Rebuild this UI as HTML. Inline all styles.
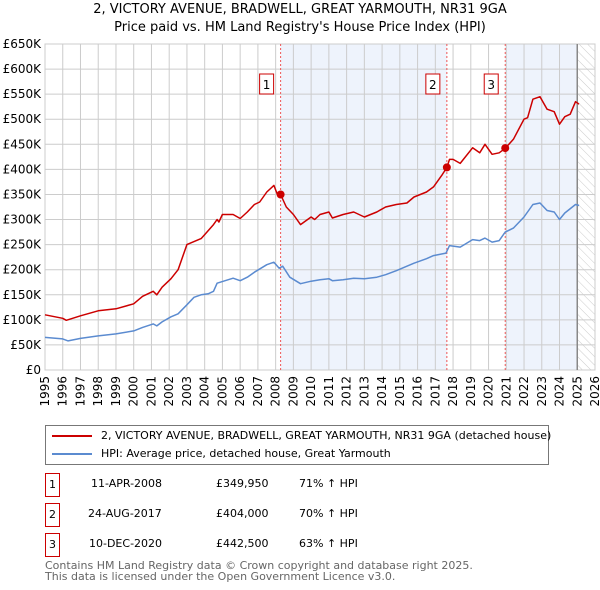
<!DOCTYPE html>
<html><head><meta charset="utf-8"><style>
body{margin:0;background:#fff;font-family:"DejaVu Sans","Liberation Sans",sans-serif;}
.t{position:absolute;font-size:11px;color:#000;white-space:nowrap}
.box{position:absolute;border:1px solid #c00;width:13px;height:22px;font-size:11px;text-align:center;line-height:22px;background:#fff}
</style></head><body>
<div style="position:relative;width:600px;height:590px;overflow:hidden">
<div class="t" style="left:0;width:600px;text-align:center;top:2px;font-size:13px">2, VICTORY AVENUE, BRADWELL, GREAT YARMOUTH, NR31 9GA</div>
<div class="t" style="left:0;width:600px;text-align:center;top:20px;font-size:13px">Price paid vs. HM Land Registry's House Price Index (HPI)</div>
<svg id="svg" width="600" height="420" style="position:absolute;left:0;top:0"></svg>
<div style="position:absolute;left:45px;top:425px;width:502px;height:38px;border:1px solid #777">
 <div style="position:absolute;left:6px;top:9px;width:40px;height:2px;background:#c00"></div>
 <div class="t" style="left:55px;top:3px">2, VICTORY AVENUE, BRADWELL, GREAT YARMOUTH, NR31 9GA (detached house)</div>
 <div style="position:absolute;left:6px;top:27px;width:40px;height:2px;background:#5b8bd0"></div>
 <div class="t" style="left:55px;top:21px">HPI: Average price, detached house, Great Yarmouth</div>
</div>
<div>
<div class="box" style="left:45px;top:473px">1</div>
<div class="t" style="left:91px;top:477px">11-APR-2008</div>
<div class="t" style="left:216px;top:477px">£349,950</div>
<div class="t" style="left:299px;top:477px">71% ↑ HPI</div>
<div class="box" style="left:45px;top:503px">2</div>
<div class="t" style="left:88px;top:507px">24-AUG-2017</div>
<div class="t" style="left:216px;top:507px">£404,000</div>
<div class="t" style="left:299px;top:507px">70% ↑ HPI</div>
<div class="box" style="left:45px;top:533px">3</div>
<div class="t" style="left:89px;top:537px">10-DEC-2020</div>
<div class="t" style="left:216px;top:537px">£442,500</div>
<div class="t" style="left:299px;top:537px">63% ↑ HPI</div>
</div>
<div class="t" style="left:45px;top:560px;color:#666;line-height:11px">Contains HM Land Registry data © Crown copyright and database right 2025.<br>This data is licensed under the Open Government Licence v3.0.</div>
</div>
<script>
const redYears=[1995,1996,1996.2,1997,1998,1998.5,1999,2000,2000.5,2001.1,2001.3,2001.6,2002.1,2002.5,2003,2003.8,2004,2004.5,2004.7,2004.8,2005,2005.6,2006,2006.4,2006.8,2007.1,2007.5,2007.9,2008.1,2008.28,2008.6,2009,2009.4,2010,2010.2,2010.5,2011,2011.2,2011.8,2012.4,2013,2013.7,2014.2,2014.8,2015.4,2015.8,2016.5,2016.9,2017.4,2017.65,2017.8,2018,2018.4,2019.1,2019.5,2019.8,2020.2,2020.6,2020.94,2021.4,2022,2022.2,2022.5,2022.9,2023.3,2023.7,2024,2024.3,2024.6,2024.9,2025.1];
const redVals=[110,103,99,108,118,120,122,132,147,157,150,165,182,200,250,262,270,290,300,295,310,310,302,315,330,335,355,368,350,350,325,310,290,305,300,310,315,303,310,315,305,315,325,330,333,345,355,365,390,404,420,420,412,443,433,450,430,433,442,460,500,503,540,545,520,515,490,505,510,535,530];
const blueYears=[1995,1996,1996.3,1997,1998,1999,2000,2000.5,2001.1,2001.3,2001.6,2002.1,2002.5,2003,2003.4,2003.8,2004.2,2004.5,2004.7,2005.6,2006,2006.4,2006.8,2007.5,2007.9,2008.2,2008.4,2008.8,2009.4,2010,2010.5,2011,2011.2,2011.8,2012.4,2013,2013.7,2014.2,2014.8,2015.4,2015.8,2016.5,2016.9,2017.6,2017.8,2018.4,2019.1,2019.5,2019.8,2020.2,2020.6,2020.94,2021.4,2022,2022.5,2022.9,2023.3,2023.7,2024,2024.3,2024.9,2025.1];
const blueVals=[65,62,58,63,68,72,78,85,92,88,96,106,112,130,145,150,152,157,173,183,178,185,195,210,215,203,207,185,172,177,180,182,178,180,183,182,185,190,198,207,213,222,228,233,248,245,260,258,263,255,258,275,283,305,330,333,318,315,300,313,330,328];
const saleYears=[2008.28,2017.65,2020.94];
const saleVals=[349.95,404,442.5];
const saleLabels=["1","2","3"];
const yTicks=[0,50,100,150,200,250,300,350,400,450,500,550,600,650];
const xTicks=[1995,1996,1997,1998,1999,2000,2001,2002,2003,2004,2005,2006,2007,2008,2009,2010,2011,2012,2013,2014,2015,2016,2017,2018,2019,2020,2021,2022,2023,2024,2025,2026];
const X0=45,X1=595,Y0=370,Y1=44;
const xs=y=>X0+(y-1995)/31*(X1-X0);
const ys=v=>Y0-v/650*(Y0-Y1);
const svg=document.getElementById('svg');
const NS='http://www.w3.org/2000/svg';
function mk(tag,attrs,parent){const e=document.createElementNS(NS,tag);for(const k in attrs)e.setAttribute(k,attrs[k]);(parent||svg).appendChild(e);return e;}
const defs=mk('defs',{});
const pat=mk('pattern',{id:'hatch',width:6,height:6,patternUnits:'userSpaceOnUse',patternTransform:'rotate(-45)'},defs);
mk('line',{x1:0,y1:0,x2:0,y2:6,stroke:'#ccc','stroke-width':1},pat);
let r=mk('rect',{x:xs(saleYears[0]),y:Y1,width:xs(saleYears[1])-xs(saleYears[0]),height:Y0-Y1,fill:'#eef3fc'});

r=mk('rect',{x:xs(saleYears[2]),y:Y1,width:xs(2025.0)-xs(saleYears[2]),height:Y0-Y1,fill:'#eef3fc'});

r=mk('rect',{x:xs(2025.0),y:Y1,width:X1-xs(2025.0),height:Y0-Y1,fill:'url(#hatch)'});

yTicks.forEach(v=>{
 const l=mk('line',{x1:X0,x2:X1,y1:ys(v),y2:ys(v),stroke:'#ccc'});
 
 const t=mk('text',{x:X0-4,y:ys(v)+4,'text-anchor':'end','font-size':12,'font-family':'DejaVu Sans,sans-serif'});
 t.textContent=v===0?'£0':'£'+v+'K';
 
});
xTicks.forEach(y=>{
 const l=mk('line',{x1:xs(y),x2:xs(y),y1:Y1,y2:Y0,stroke:'#ccc'});
 
 const t=mk('text',{x:0,y:0,'text-anchor':'end','font-size':12,'font-family':'DejaVu Sans,sans-serif',transform:`translate(${xs(y)+4},${Y0+6}) rotate(-90)`});
 t.textContent=y;
 
});
let b=mk('rect',{x:X0,y:Y1,width:X1-X0,height:Y0-Y1,fill:'none',stroke:'#ccc'});

let nl=mk('line',{x1:xs(2025.0),x2:xs(2025.0),y1:Y1,y2:Y0,stroke:'#888','stroke-width':1.5});

saleYears.forEach((y,i)=>{
 const l=mk('line',{x1:xs(y),x2:xs(y),y1:Y1,y2:Y0,stroke:'#e55','stroke-dasharray':'2,2'});
 
 const bx=mk('rect',{x:xs(y)-21,y:74,width:14,height:20,fill:'#fff',stroke:'#c00'});
 
 const t=mk('text',{x:xs(y)-14,y:89,'text-anchor':'middle','font-size':12,'font-family':'DejaVu Sans,sans-serif'});
 t.textContent=saleLabels[i];
 
});
function line(xa,va,col,name){
 const p=mk('polyline',{points:xa.map((y,i)=>xs(y).toFixed(1)+','+ys(va[i]).toFixed(1)).join(' '),fill:'none',stroke:col,'stroke-width':1.5,'stroke-linejoin':'round'});
 
}
line(blueYears,blueVals,'#5b8bd0','hpi-line');
line(redYears,redVals,'#c00','property-price-line');
saleYears.forEach((y,i)=>{
 const c=mk('circle',{cx:xs(y),cy:ys(saleVals[i]),r:4,fill:'#c00'});
 
});
</script>
</body></html>
